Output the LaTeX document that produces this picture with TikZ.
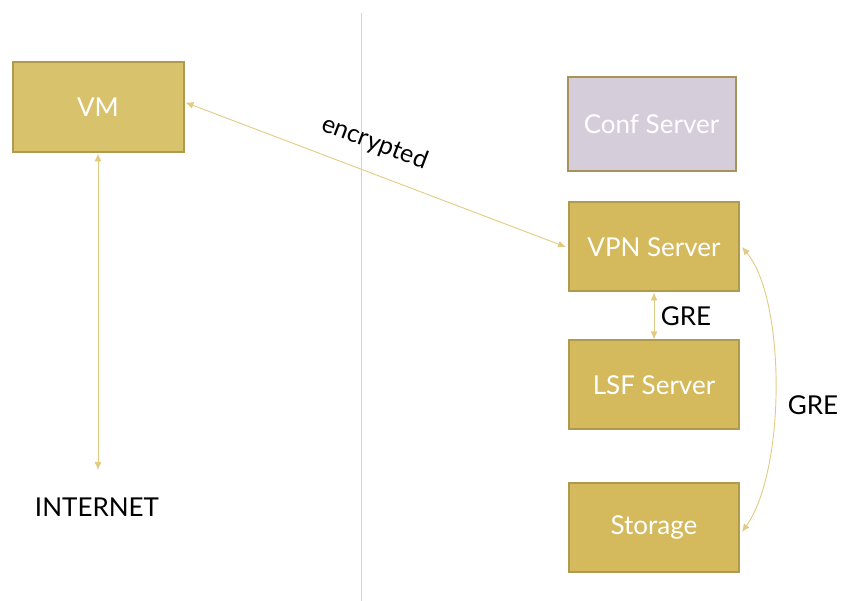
\documentclass[tikz,border=0pt]{standalone}
\usepackage{fontspec}
\setmainfont{Lato}
\usetikzlibrary{arrows.meta}
\definecolor{boxfill}{HTML}{D4BA5C}
\definecolor{vmfill}{HTML}{D9C26C}
\definecolor{boxedge}{HTML}{B09A4E}
\definecolor{conffill}{HTML}{D6CDDB}
\definecolor{confedge}{HTML}{A8925A}
\definecolor{wire}{HTML}{E2CB80}
\definecolor{divider}{HTML}{E8D49A}
\tikzset{
  srvbox/.style={draw=boxedge, line width=2pt, fill=boxfill, minimum width=170pt,
    minimum height=89pt, inner sep=0pt, text=white, font=\fontsize{26}{30}\selectfont},
  link/.style={draw=wire, line width=0.9pt, {Latex[length=8pt,width=7pt]}-{Latex[length=8pt,width=7pt]}},
  tag/.style={text=black, font=\fontsize{26}{30}\selectfont}
}
\begin{document}
\begin{tikzpicture}[x=1pt,y=-1pt]
  \useasboundingbox (0,0) rectangle (841,601);
  % divider between the two sides
  \draw[divider, line width=0.9pt] (361,13) -- (361,601);
  % boxes
  \node[srvbox, fill=vmfill, minimum width=171pt, minimum height=90pt] (vm) at (98,107.5) {VM};
  \node[srvbox, fill=conffill, draw=confedge, minimum width=168pt, minimum height=94pt] (conf) at (651.5,124.5) {Conf Server};
  \node[srvbox] (vpn) at (654,247) {VPN Server};
  \node[srvbox] (lsf) at (654,385) {LSF Server};
  \node[srvbox] (sto) at (654,527) {Storage};
  % internet label
  \node[tag, inner sep=0pt] (inet) at (97,507) {INTERNET};
  \coordinate (inetTop) at (98,470);
  % connectors
  \draw[link] (vm.south) -- (inetTop);
  \draw[link] ([xshift=1pt,yshift=5pt]vm.east) -- ([xshift=-2pt]vpn.west)
    node[pos=0.47, above, sloped, tag, font=\fontsize{25}{29}\selectfont, yshift=14pt] {encrypted};
  \draw[link] (vpn.south) -- (lsf.south |- lsf.north)
    node[midway, right, tag, xshift=3pt] {GRE};
  \draw[link] ([xshift=2pt]vpn.east) .. controls (786,300) and (786,470) .. ([xshift=2pt,yshift=-5pt]sto.east);
  \node[tag] (gre2) at (813,405) {GRE};
\end{tikzpicture}
\end{document}
